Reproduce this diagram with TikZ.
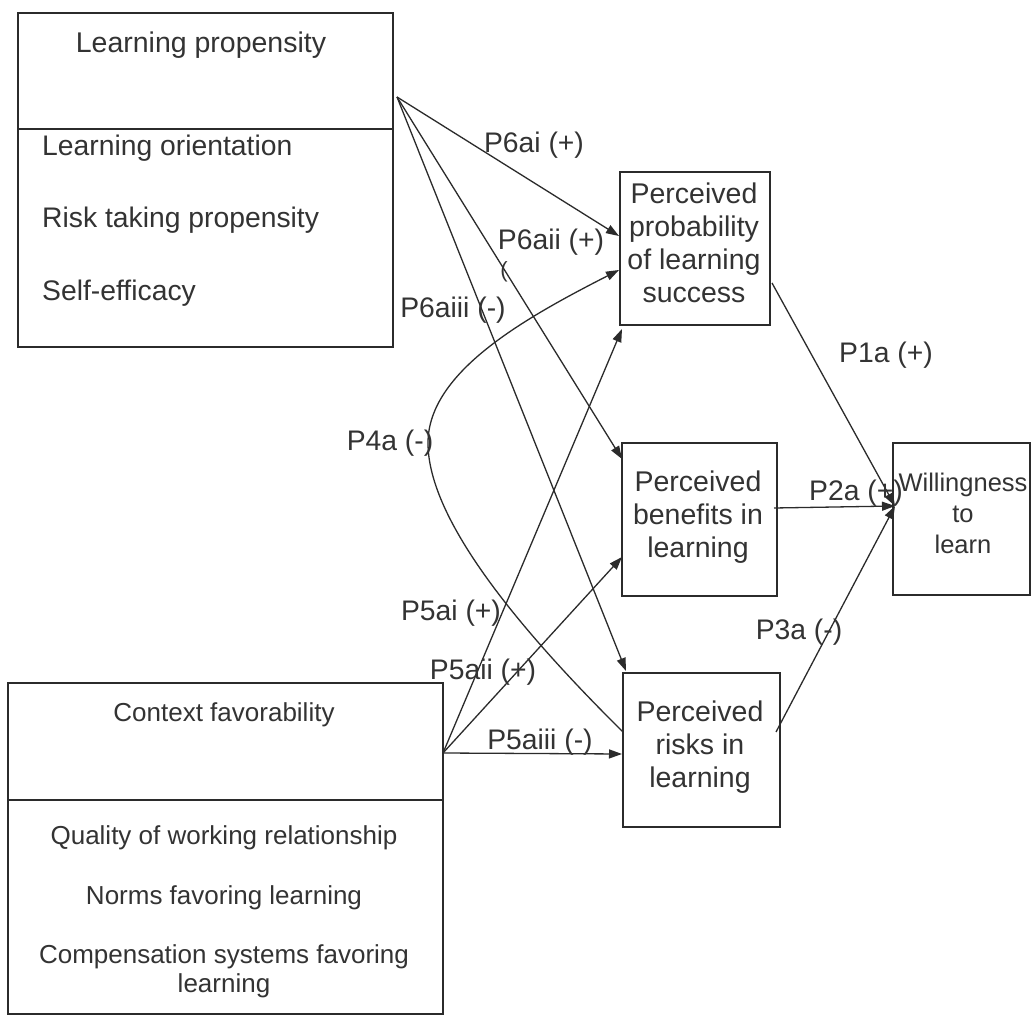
\documentclass[tikz,border=0pt]{standalone}
\usepackage{fontspec}
\setmainfont{Liberation Sans}
\usetikzlibrary{arrows.meta}
\definecolor{ink}{HTML}{2B2B2B}
\definecolor{txtc}{HTML}{333333}
\begin{document}
\begin{tikzpicture}[x=1pt,y=-1pt,
  box/.style={draw=ink, line width=1.4pt, inner sep=0pt},
  txt/.style={text=txtc, inner sep=0pt, align=center, font=\fontsize{28.5}{33}\selectfont},
  itm/.style={text=txtc, inner sep=0pt, font=\fontsize{28.3}{33}\selectfont},
  sitm/.style={text=txtc, inner sep=0pt, align=center, font=\fontsize{26}{29}\selectfont},
  lab/.style={text=txtc, inner sep=0pt, font=\fontsize{28.3}{33}\selectfont},
  arr/.style={draw=ink, line width=1.3pt, -{Triangle[length=13pt,width=9pt]}},
  ln/.style={draw=ink, line width=1.4pt}
]
\useasboundingbox[fill=white] (0,0) rectangle (1031,1016);

% ---------- Learning propensity box ----------
\node[box, minimum width=375, minimum height=334] (lp) at (205.5,180) {};
\draw[ln] (18,129) coordinate (lpd1) -- (393,129) coordinate (lpd2);
\node[txt] (lpt) at (201,45) {Learning propensity};
\node[itm, anchor=west] (lp1) at (42,148) {Learning orientation};
\node[itm, anchor=west] (lp2) at (42,220) {Risk taking propensity};
\node[itm, anchor=west] (lp3) at (42,293) {Self-efficacy};
\coordinate (lps) at (397,97);

% ---------- Context favorability box ----------
\node[box, minimum width=435, minimum height=331] (cf) at (225.5,848.5) {};
\draw[ln] (8,800) coordinate (cfd1) -- (443,800) coordinate (cfd2);
\node[sitm] (cft) at (224,715) {Context favorability};
\node[sitm] (cf1) at (224,838) {Quality of working relationship};
\node[sitm] (cf2) at (224,898) {Norms favoring learning};
\node[sitm] (cf3) at (224,971) {Compensation systems favoring\\learning};
\coordinate (cfs) at (443,753);

% ---------- Mediators ----------
\node[box, minimum width=150, minimum height=153] (pp) at (695,248.5) {};
\node[txt] (ppt) at (694,243) {Perceived\\probability\\of learning\\success};

\node[box, minimum width=155, minimum height=153] (pb) at (699.5,519.5) {};
\node[txt] (pbt) at (698,517) {Perceived\\benefits in\\learning};

\node[box, minimum width=157, minimum height=154] (pr) at (701.5,750) {};
\node[txt] (prt) at (700,747) {Perceived\\risks in\\learning};

\node[box, minimum width=137, minimum height=152] (wl) at (961.5,519) {};
\node[txt, font=\fontsize{25.5}{31}\selectfont] (wlt) at (963,513) {Willingness\\to\\learn};

% ---------- endpoints ----------
\coordinate (pp1) at (619,236);
\coordinate (pp2) at (619,270);
\coordinate (pp3) at (622,329);
\coordinate (pb1) at (622,459);
\coordinate (pb2) at (622,557);
\coordinate (pr1) at (626,671);
\coordinate (pr2) at (623,732);
\coordinate (pr3) at (622,754);
\coordinate (ppo) at (772,283);
\coordinate (pbo) at (774,508);
\coordinate (pro) at (776,732);
\coordinate (wli) at (895,506);

% ---------- connectors from learning propensity ----------
\draw[arr] (lps) -- (pp1);
\draw[arr] (lps) -- (pb1);
\draw[arr] (lps) -- (pr1);

% ---------- connectors from context favorability ----------
\draw[arr] (cfs) -- (pp3);
\draw[arr] (cfs) -- (pb2);
\draw[arr] (cfs) -- (pr3);

% ---------- P4a curve ----------
\draw[arr] (pr2) .. controls (520,630) and (428,520) .. (428,443)
             .. controls (428,372) and (525,318) .. (pp2);

% ---------- to willingness ----------
\draw[arr] (ppo) -- (wli);
\draw[arr] (pbo) -- (wli);
\draw[arr] (pro) -- (wli);

% ---------- labels ----------
\node[lab] (l6ai) at (534,145) {P6ai (+)};
\node[lab] (l6aii) at (551,242) {P6aii (+)};
\node[lab, font=\fontsize{22}{26}\selectfont] (lstray) at (504,272) {(};
\node[lab] (l6aiii) at (453,310) {P6aiii (-)};
\node[lab] (l4a) at (390,443) {P4a (-)};
\node[lab] (l5ai) at (451,613) {P5ai (+)};
\node[lab] (l5aii) at (483,672) {P5aii (+)};
\node[lab] (l5aiii) at (540,742) {P5aiii (-)};
\node[lab] (l1a) at (886,355) {P1a (+)};
\node[lab] (l2a) at (856,493) {P2a (+)};
\node[lab] (l3a) at (799,632) {P3a (-)};
\end{tikzpicture}
\end{document}
